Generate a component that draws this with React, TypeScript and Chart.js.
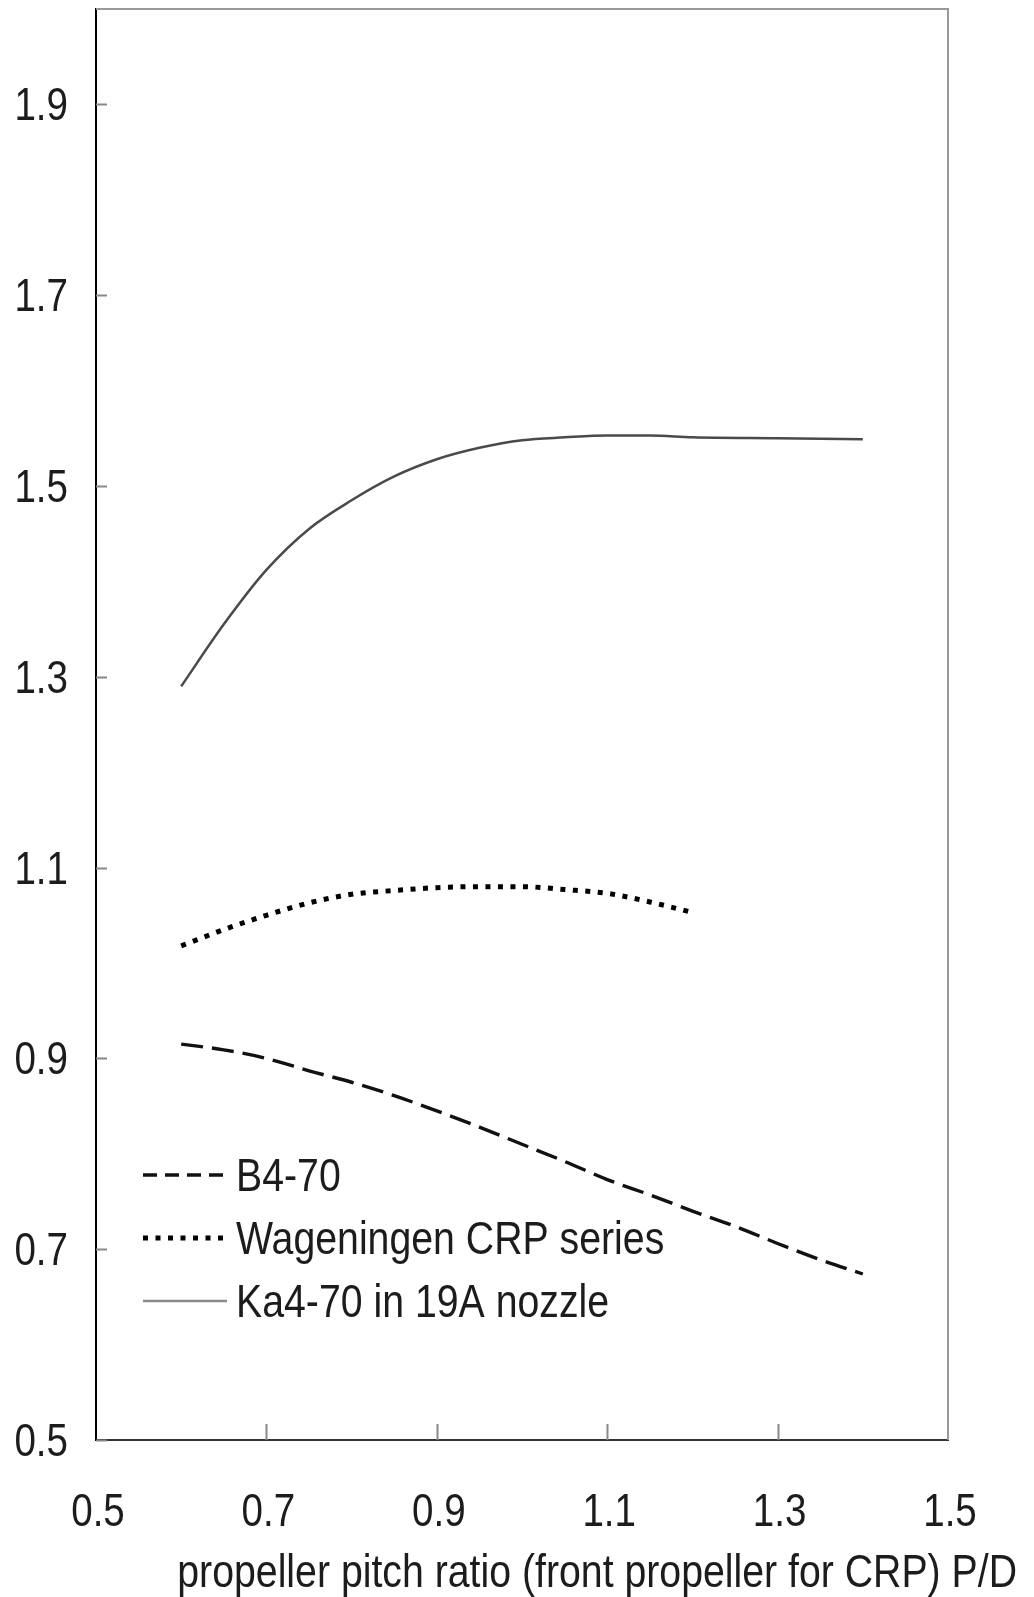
import React, { useEffect, useRef } from "react";
import { Chart, registerables } from "chart.js";

Chart.register(...registerables);

// Pitch ratio P/D and efficiency ratio for each propeller family
const b4PD = [0.6, 0.65, 0.7, 0.75, 0.8, 0.85, 0.9, 0.95, 1.0, 1.05, 1.1, 1.15, 1.2, 1.25, 1.3, 1.35, 1.4];
const b4Eff = [0.915, 0.909, 0.9, 0.887, 0.875, 0.861, 0.845, 0.828, 0.81, 0.792, 0.773, 0.757, 0.74, 0.724, 0.706, 0.689, 0.674];

const crpPD = [0.6, 0.65, 0.7, 0.75, 0.8, 0.85, 0.9, 0.95, 1.0, 1.05, 1.1, 1.15, 1.2];
const crpEff = [1.018, 1.035, 1.05, 1.063, 1.072, 1.076, 1.079, 1.08, 1.08, 1.077, 1.073, 1.064, 1.053];

const kaPD = [0.6, 0.65, 0.7, 0.75, 0.8, 0.85, 0.9, 0.95, 1.0, 1.05, 1.1, 1.15, 1.2, 1.3, 1.4];
const kaEff = [1.29, 1.355, 1.412, 1.455, 1.485, 1.51, 1.528, 1.54, 1.548, 1.551, 1.553, 1.553, 1.551, 1.55, 1.549];

const seriesNames = ["B4-70", "Wageningen CRP series", "Ka4-70 in 19A nozzle"];

const xTicks = [0.5, 0.7, 0.9, 1.1, 1.3, 1.5];
const yTicks = [0.5, 0.7, 0.9, 1.1, 1.3, 1.5, 1.7, 1.9];

const xTitle = "propeller pitch ratio (front propeller for CRP) P/D";

const FONT = "'Liberation Sans', Arial, sans-serif";
const FONT_SIZE = 47;
const TEXT = "#1c1c1c";

const fmt = (v: number) => v.toFixed(1);
const toPoints = (xs: number[], ys: number[]) => xs.map((x, i) => ({ x, y: ys[i] }));

// Text squeezed horizontally for a narrow sans look
function narrowText(
  ctx: CanvasRenderingContext2D,
  text: string,
  x: number,
  y: number,
  align: CanvasTextAlign,
  squeeze = 0.82
) {
  ctx.save();
  ctx.translate(x, y);
  ctx.scale(squeeze, 1);
  ctx.textAlign = align;
  ctx.textBaseline = "alphabetic";
  ctx.fillText(text, 0, 0);
  ctx.restore();
}

// Frame, inward tick marks, tick labels, in-plot legend and the x-axis title
const decorations = {
  id: "decorations",
  afterDraw(chart: any) {
    const { ctx, chartArea } = chart;
    const { left, right, top, bottom } = chartArea;
    const xs = chart.scales.x;
    const ys = chart.scales.y;
    ctx.save();

    // top and right frame lines
    ctx.strokeStyle = "#999";
    ctx.lineWidth = 2;
    ctx.beginPath();
    ctx.moveTo(left, top);
    ctx.lineTo(right, top);
    ctx.lineTo(right, bottom);
    ctx.stroke();

    // inward tick marks
    ctx.strokeStyle = "#888";
    ctx.lineWidth = 2;
    ctx.beginPath();
    yTicks.forEach((v) => {
      const py = Math.round(ys.getPixelForValue(v)) + 0.5;
      ctx.moveTo(left, py);
      ctx.lineTo(left + 11, py);
    });
    xTicks.slice(1, -1).forEach((v) => {
      const px = Math.round(xs.getPixelForValue(v)) + 0.5;
      ctx.moveTo(px, bottom);
      ctx.lineTo(px, bottom - 16);
    });
    ctx.stroke();

    ctx.font = `${FONT_SIZE}px ${FONT}`;
    ctx.fillStyle = TEXT;

    // tick labels
    yTicks.forEach((v) => {
      narrowText(ctx, fmt(v), left - 28, ys.getPixelForValue(v) + 16, "right");
    });
    xTicks.forEach((v) => {
      narrowText(ctx, fmt(v), xs.getPixelForValue(v) + 2, bottom + 86, "center");
    });

    // legend inside the plot area
    const sx0 = left + 47;
    const sx1 = left + 131;
    const tx = left + 140;
    const rows = [bottom - 249, bottom - 186, bottom - 123];
    chart.data.datasets.forEach((ds: any, i: number) => {
      const base = rows[i];
      const ly = base - 16;
      ctx.save();
      ctx.strokeStyle = i === 2 ? "#8a8a8a" : ds.borderColor;
      ctx.lineWidth = ds.borderWidth;
      ctx.setLineDash(i === 0 ? [14, 8] : ds.borderDash || []);
      ctx.beginPath();
      ctx.moveTo(sx0, ly);
      ctx.lineTo(sx1, ly);
      ctx.stroke();
      ctx.restore();
      narrowText(ctx, ds.label, tx, base, "left", 0.835);
    });

    // x-axis title
    narrowText(ctx, xTitle, right + 69, bottom + 147, "right", 0.835);
    ctx.restore();
  },
};

export default function App() {
  const ref = useRef<HTMLCanvasElement>(null);

  useEffect(() => {
    document.body.style.margin = "0";
    const canvas = ref.current;
    if (!canvas) return;
    const chart = new Chart(canvas, {
      type: "line",
      data: {
        datasets: [
          {
            label: seriesNames[0],
            data: toPoints(b4PD, b4Eff),
            borderColor: "#111",
            borderWidth: 3.4,
            borderDash: [22, 9],
            pointRadius: 0,
            cubicInterpolationMode: "monotone",
          },
          {
            label: seriesNames[1],
            data: toPoints(crpPD, crpEff),
            borderColor: "#000",
            borderWidth: 5,
            borderDash: [5, 7.5],
            pointRadius: 0,
            cubicInterpolationMode: "monotone",
          },
          {
            label: seriesNames[2],
            data: toPoints(kaPD, kaEff),
            borderColor: "#4a4a4a",
            borderWidth: 2.5,
            pointRadius: 0,
            cubicInterpolationMode: "monotone",
          },
        ],
      },
      options: {
        animation: false,
        responsive: false,
        devicePixelRatio: 1,
        layout: { padding: { top: 9, right: 86, left: 0, bottom: 0 } },
        plugins: {
          legend: { display: false },
          tooltip: { enabled: false },
        },
        scales: {
          x: {
            type: "linear",
            min: 0.5,
            max: 1.5,
            grid: { display: false, drawTicks: false },
            border: { display: true, color: "#333", width: 2 },
            afterFit: (s: any) => {
              s.height = 157;
            },
            afterBuildTicks: (s: any) => {
              s.ticks = xTicks.map((value) => ({ value }));
            },
            ticks: { display: false },
          },
          y: {
            type: "linear",
            min: 0.5,
            max: 2.0,
            grid: { display: false, drawTicks: false },
            border: { display: true, color: "#000", width: 2 },
            afterFit: (s: any) => {
              s.width = 96;
            },
            afterBuildTicks: (s: any) => {
              s.ticks = yTicks.map((value) => ({ value }));
            },
            ticks: { display: false },
          },
        },
      },
      plugins: [decorations],
    });
    return () => chart.destroy();
  }, []);

  return (
    <canvas
      ref={ref}
      width={1034}
      height={1597}
      style={{ display: "block", width: 1034, height: 1597 }}
    />
  );
}
